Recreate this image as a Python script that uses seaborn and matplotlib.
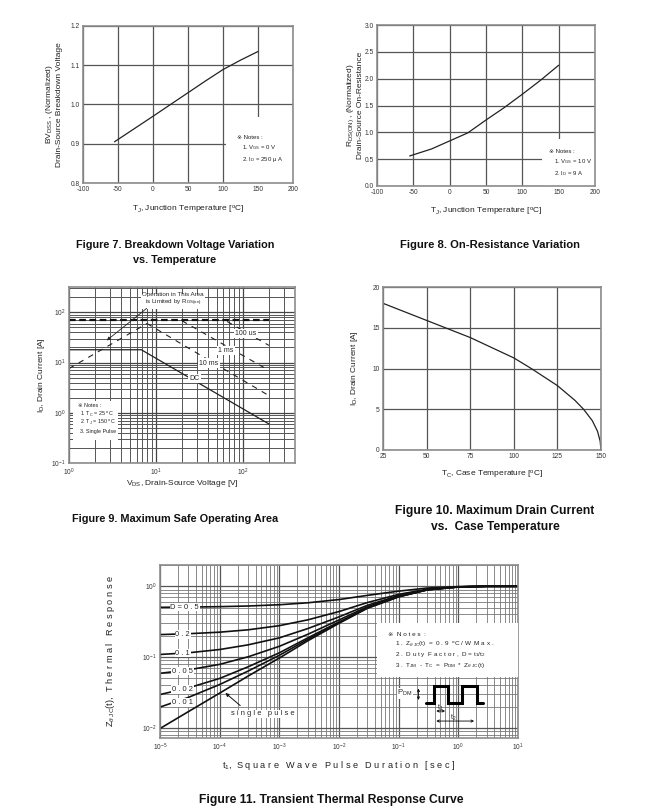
import matplotlib
matplotlib.use("Agg")
import matplotlib.pyplot as plt
import seaborn as sns
import pandas as pd
from matplotlib.ticker import MultipleLocator, LogLocator, NullFormatter, FormatStrFormatter
from matplotlib.patches import Rectangle

sns.set_theme(style="white")
plt.rcParams['font.family'] = ['Liberation Sans', 'DejaVu Sans']
plt.rcParams['mathtext.fontset'] = 'custom'
plt.rcParams['mathtext.rm'] = 'Liberation Sans'
plt.rcParams['mathtext.it'] = 'Liberation Sans:italic'
plt.rcParams['mathtext.bf'] = 'Liberation Sans:bold'
plt.rcParams['axes.unicode_minus'] = False

# ---------------- data ----------------
# Figure 7: breakdown voltage vs temperature
bv_temp = [-55, 0, 25, 50, 75, 100, 125, 150]
bv_norm = [0.905, 0.970, 1.000, 1.030, 1.060, 1.089, 1.113, 1.135]

# Figure 8: on-resistance vs temperature
rds_temp = [-55, -25, 0, 25, 50, 75, 100, 125, 150]
rds_norm = [0.56, 0.69, 0.84, 0.99, 1.23, 1.46, 1.71, 1.97, 2.25]

# Figure 9: safe operating area
soa_limit_v = [1, 7.9]
soa_limit_i = [7.6, 60]
soa_pulse_v = [1, 200]
soa_pulse_i = [70, 70]
soa_100us_v = [66, 200]
soa_100us_i = [66, 22]
soa_1ms_v = [20, 200]
soa_1ms_i = [68, 7.0]
soa_10ms_v = [7.9, 200]
soa_10ms_i = [60, 2.2]
soa_dc_v = [1, 6.8, 200]
soa_dc_i = [18, 18, 0.6]

# Figure 10: max drain current vs case temperature
tc_temp = [25, 50, 75, 100, 110, 125, 135, 140, 145, 148, 149.5, 150]
id_max = [18.0, 15.9, 13.8, 11.3, 10.0, 7.9, 6.1, 5.0, 3.6, 2.3, 1.1, 0.0]

# Figure 11: transient thermal response
t_pulse = [1e-5, 3e-5, 1e-4, 3e-4, 1e-3, 3e-3, 1e-2, 3e-2, 1e-1, 3e-1, 1, 3, 10]
z_d05 = [0.505, 0.509, 0.516, 0.527, 0.549, 0.585, 0.650, 0.745, 0.855, 0.945, 0.990, 1.0, 1.0]
z_d02 = [0.208, 0.214, 0.225, 0.243, 0.278, 0.336, 0.440, 0.590, 0.770, 0.910, 0.985, 1.0, 1.0]
z_d01 = [0.109, 0.115, 0.128, 0.149, 0.187, 0.253, 0.370, 0.540, 0.740, 0.900, 0.980, 1.0, 1.0]
z_d005 = [0.059, 0.066, 0.079, 0.101, 0.142, 0.210, 0.335, 0.515, 0.725, 0.895, 0.980, 1.0, 1.0]
z_d002 = [0.0296, 0.0367, 0.050, 0.073, 0.115, 0.187, 0.314, 0.500, 0.715, 0.892, 0.980, 1.0, 1.0]
z_d001 = [0.0197, 0.027, 0.041, 0.0635, 0.106, 0.178, 0.307, 0.495, 0.713, 0.890, 0.980, 1.0, 1.0]
z_single = [0.0098, 0.017, 0.031, 0.054, 0.097, 0.170, 0.300, 0.490, 0.710, 0.890, 0.980, 1.0, 1.0]
duty_labels = ["D = 0 . 5", "0 . 2", "0 . 1", "0 . 0 5", "0 . 0 2", "0 . 0 1"]
duty_label_y = [0.51, 0.21, 0.114, 0.0635, 0.035, 0.023]

# ---------------- figure ----------------
fig = plt.figure(figsize=(6.6, 8.1), dpi=100)


def px_axes(x0, y0, x1, y1):
    return fig.add_axes([x0 / 660, 1 - y1 / 810, (x1 - x0) / 660, (y1 - y0) / 810])


def style(ax):
    for s in ax.spines.values():
        s.set_color('#8c8c8c')
        s.set_linewidth(1.2)
    ax.tick_params(which='both', direction='in', colors='#666666', labelcolor='#333333',
                   labelsize=4.8, width=0.6, pad=2.5)
    ax.tick_params(which='major', length=2.5)
    ax.tick_params(which='minor', length=1.5)
    ax.set_axisbelow(True)


LBL = dict(fontsize=6.0, color='#222222')
NOTE = dict(fontsize=4.3, color='#222222')
DEG = r"$^{\mathrm{o}}$C"

# ---- Figure 7 ----
ax7 = px_axes(83, 26, 293, 183)
style(ax7)
sns.lineplot(x=bv_temp, y=bv_norm, ax=ax7, color='#222222', lw=0.9)
ax7.set_xlim(-100, 200)
ax7.set_ylim(0.8, 1.2)
ax7.xaxis.set_major_locator(MultipleLocator(50))
ax7.xaxis.set_minor_locator(MultipleLocator(25))
ax7.yaxis.set_major_locator(MultipleLocator(0.1))
ax7.yaxis.set_minor_locator(MultipleLocator(0.05))
ax7.yaxis.set_major_formatter(FormatStrFormatter('%.1f'))
ax7.grid(True, which='major', color='#555555', lw=0.9)
ax7.add_patch(Rectangle((0.68, 0.0), 0.32, 0.42, transform=ax7.transAxes,
                        facecolor='white', edgecolor='none', zorder=1))
ax7.text(0.735, 0.29, "※ Notes :", transform=ax7.transAxes, va='center', **NOTE)
ax7.text(0.755, 0.223, r"1. V$_{\mathrm{GS}}$ = 0 V", transform=ax7.transAxes, va='center', **NOTE)
ax7.text(0.755, 0.147, r"2. I$_{\mathrm{D}}$ = 250 μ A", transform=ax7.transAxes, va='center', **NOTE)
ax7.set_xlabel(r"T$_{\mathrm{J}}$, Junction Temperature [" + DEG + "]", **LBL)
ax7.set_ylabel("BV$_{\\mathrm{DSS}}$ , (Normalized)\nDrain-Source Breakdown Voltage", **LBL)
ax7.xaxis.set_label_coords(0.5, -0.134)
ax7.yaxis.set_label_coords(-0.095, 0.5)

# ---- Figure 8 ----
ax8 = px_axes(377, 25, 595, 186)
style(ax8)
sns.lineplot(x=rds_temp, y=rds_norm, ax=ax8, color='#222222', lw=0.9)
ax8.set_xlim(-100, 200)
ax8.set_ylim(0.0, 3.0)
ax8.xaxis.set_major_locator(MultipleLocator(50))
ax8.xaxis.set_minor_locator(MultipleLocator(25))
ax8.yaxis.set_major_locator(MultipleLocator(0.5))
ax8.yaxis.set_minor_locator(MultipleLocator(0.25))
ax8.yaxis.set_major_formatter(FormatStrFormatter('%.1f'))
ax8.grid(True, which='major', color='#555555', lw=0.9)
ax8.add_patch(Rectangle((0.755, 0.0), 0.245, 0.29, transform=ax8.transAxes,
                        facecolor='white', edgecolor='none', zorder=1))
ax8.text(0.79, 0.213, "※ Notes :", transform=ax8.transAxes, va='center', **NOTE)
ax8.text(0.81, 0.151, r"1. V$_{\mathrm{GS}}$ = 10 V", transform=ax8.transAxes, va='center', **NOTE)
ax8.text(0.81, 0.079, r"2. I$_{\mathrm{D}}$ = 9 A", transform=ax8.transAxes, va='center', **NOTE)
ax8.set_xlabel(r"T$_{\mathrm{J}}$, Junction Temperature [" + DEG + "]", **LBL)
ax8.set_ylabel("R$_{\\mathrm{DS(ON)}}$ , (Normalized)\nDrain-Source On-Resistance", **LBL)
ax8.xaxis.set_label_coords(0.5, -0.124)
ax8.yaxis.set_label_coords(-0.06, 0.5)

# ---- Figure 9 ----
ax9 = px_axes(69, 287, 295, 463)
style(ax9)
ax9.set_xscale('log')
ax9.set_yscale('log')
dash = dict(color='#222222', lw=0.8, dashes=(5, 5))
sns.lineplot(x=soa_limit_v, y=soa_limit_i, ax=ax9, **dash)
sns.lineplot(x=soa_100us_v, y=soa_100us_i, ax=ax9, **dash)
sns.lineplot(x=soa_1ms_v, y=soa_1ms_i, ax=ax9, **dash)
sns.lineplot(x=soa_10ms_v, y=soa_10ms_i, ax=ax9, **dash)
sns.lineplot(x=soa_pulse_v, y=soa_pulse_i, ax=ax9, color='#111111', lw=1.6, dashes=(3, 1.6))
sns.lineplot(x=soa_dc_v, y=soa_dc_i, ax=ax9, color='#222222', lw=0.9, sort=False)
ax9.set_xlim(1, 400)
ax9.set_ylim(0.1, 320)
ax9.xaxis.set_minor_locator(LogLocator(base=10, subs=range(2, 10)))
ax9.yaxis.set_minor_locator(LogLocator(base=10, subs=range(2, 10)))
ax9.xaxis.set_minor_formatter(NullFormatter())
ax9.yaxis.set_minor_formatter(NullFormatter())
ax9.set_xticks([1, 10, 100])
ax9.set_xticklabels(['$10^{0}$', '$10^{1}$', '$10^{2}$'])
ax9.set_yticks([0.1, 1, 10, 100])
ax9.set_yticklabels(['$10^{-1}$', '$10^{0}$', '$10^{1}$', '$10^{2}$'])
ax9.grid(True, which='major', color='#444444', lw=0.9)
ax9.grid(True, which='minor', color='#555555', lw=0.7)
bb = dict(boxstyle='square,pad=0.15', facecolor='white', edgecolor='none')
ax9.text(109, 38, "100 us", fontsize=5, ha='center', va='center', bbox=bb, zorder=4)
ax9.text(64, 17.6, "1 ms", fontsize=5, ha='center', va='center', bbox=bb, zorder=4)
ax9.text(41, 9.8, "10 ms", fontsize=5, ha='center', va='center', bbox=bb, zorder=4)
ax9.text(27.9, 4.9, "DC", fontsize=5, ha='center', va='center', bbox=bb, zorder=4)
ax9.text(0.46, 0.925, "Operation in This Area\nis Limited by R$_{\\mathrm{DS(on)}}$",
         transform=ax9.transAxes, fontsize=4.5, ha='center', va='center',
         linespacing=1.1, bbox=bb, zorder=4)
ax9.annotate("", xy=(2.57, 25.5), xytext=(8.3, 130),
             arrowprops=dict(arrowstyle='-|>', color='#222222', lw=0.6,
                             mutation_scale=5), zorder=4)
ax9.add_patch(Rectangle((0.019, 0.13), 0.2, 0.225, transform=ax9.transAxes,
                        facecolor='white', edgecolor='none', zorder=3))
N9 = dict(fontsize=3.9, color='#222222', transform=ax9.transAxes, va='center', zorder=4)
ax9.text(0.041, 0.325, "※ Notes :", **N9)
ax9.text(0.047, 0.276, r"1. T$_{\mathrm{C}}$ = 25 " + DEG, **N9)
ax9.text(0.047, 0.228, r"2. T$_{\mathrm{J}}$ = 150 " + DEG, **N9)
ax9.text(0.047, 0.180, "3. Single Pulse", **N9)
ax9.set_xlabel(r"V$_{\mathrm{DS}}$, Drain-Source Voltage [V]", **LBL)
ax9.set_ylabel(r"I$_{\mathrm{D}}$, Drain Current [A]", **LBL)
ax9.xaxis.set_label_coords(0.5, -0.085)
ax9.yaxis.set_label_coords(-0.099, 0.5)

# ---- Figure 10 ----
ax10 = px_axes(383, 287, 601, 450)
style(ax10)
sns.lineplot(x=tc_temp, y=id_max, ax=ax10, color='#222222', lw=0.9)
ax10.set_xlim(25, 150)
ax10.set_ylim(0, 20)
ax10.xaxis.set_major_locator(MultipleLocator(25))
ax10.xaxis.set_minor_locator(MultipleLocator(12.5))
ax10.yaxis.set_major_locator(MultipleLocator(5))
ax10.yaxis.set_minor_locator(MultipleLocator(2.5))
ax10.grid(True, which='major', color='#555555', lw=0.9)
ax10.set_xlabel(r"T$_{\mathrm{C}}$, Case Temperature [" + DEG + "]", **LBL)
ax10.set_ylabel(r"I$_{\mathrm{D}}$, Drain Current [A]", **LBL)
ax10.xaxis.set_label_coords(0.5, -0.117)
ax10.yaxis.set_label_coords(-0.105, 0.5)

# ---- Figure 11 ----
ax11 = px_axes(160, 565, 518, 738)
style(ax11)
ax11.set_xscale('log')
ax11.set_yscale('log')
for zs in [z_d05, z_d02, z_d01, z_d005, z_d002, z_d001, z_single]:
    sns.lineplot(x=t_pulse, y=zs, ax=ax11, color='#111111', lw=1.2)
ax11.set_xlim(1e-5, 10)
ax11.set_ylim(0.0072, 2)
ax11.set_xticks([1e-5, 1e-4, 1e-3, 1e-2, 1e-1, 1, 10])
ax11.set_xticklabels(['$10^{-5}$', '$10^{-4}$', '$10^{-3}$', '$10^{-2}$',
                      '$10^{-1}$', '$10^{0}$', '$10^{1}$'])
ax11.set_yticks([0.01, 0.1, 1])
ax11.set_yticklabels(['$10^{-2}$', '$10^{-1}$', '$10^{0}$'])
ax11.xaxis.set_minor_locator(LogLocator(base=10, subs=range(2, 10)))
ax11.yaxis.set_minor_locator(LogLocator(base=10, subs=range(2, 10)))
ax11.xaxis.set_minor_formatter(NullFormatter())
ax11.yaxis.set_minor_formatter(NullFormatter())
ax11.grid(True, which='major', color='#555555', lw=0.9)
ax11.grid(True, which='minor', color='#777777', lw=0.6)
bb2 = dict(boxstyle='square,pad=0.1', facecolor='white', edgecolor='none')
ax11.text(2.6e-5, duty_label_y[0], duty_labels[0], fontsize=5.4, ha='center', va='center', bbox=bb2, zorder=4)
for lab, yy in zip(duty_labels[1:], duty_label_y[1:]):
    ax11.text(2.4e-5, yy, lab, fontsize=5.4, ha='center', va='center', bbox=bb2, zorder=4)
ax11.text(5.3e-4, 0.0158, "s i n g l e   p u l s e", fontsize=5.4, ha='center', va='center',
          bbox=bb2, zorder=4)
ax11.annotate("", xy=(1.15e-4, 0.033), xytext=(2.4e-4, 0.0195),
              arrowprops=dict(arrowstyle='-|>', color='#111111', lw=0.7, mutation_scale=5), zorder=4)
ax11.add_patch(Rectangle((0.605, 0.354), 0.395, 0.309, transform=ax11.transAxes,
                         facecolor='white', edgecolor='none', zorder=3))
N11 = dict(fontsize=4.6, color='#222222', transform=ax11.transAxes, va='center', zorder=4)
ax11.text(0.637, 0.601, "※  N o t e s  :", **N11)
ax11.text(0.656, 0.542, "1 .  Z$_{\\theta\\ \\mathrm{JC}}$(t)  =  0 . 9  " + DEG + " / W  M a x .", **N11)
ax11.text(0.656, 0.480, "2 .  D u t y  F a c t o r ,  D = t$_{1}$/t$_{2}$", **N11)
ax11.text(0.656, 0.418, "3 .  T$_{\\mathrm{JM}}$  -  T$_{\\mathrm{C}}$  =  P$_{\\mathrm{DM}}$  *  Z$_{\\theta\\ \\mathrm{JC}}$(t)", **N11)
# pulse waveform sketch
wx = [0.743, 0.764, 0.764, 0.804, 0.804, 0.843, 0.843, 0.885, 0.885, 0.903]
wy = [0.204, 0.204, 0.302, 0.302, 0.204, 0.204, 0.302, 0.302, 0.204, 0.204]
ax11.plot(wx, wy, transform=ax11.transAxes, color='black', lw=2.2, zorder=5,
          solid_joinstyle='miter')
ax11.text(0.684, 0.258, "P$_{\\mathrm{DM}}$", transform=ax11.transAxes, fontsize=5.5,
          ha='center', va='center', zorder=5,
          bbox=dict(boxstyle='square,pad=0.05', facecolor='white', edgecolor='none'))
ax11.annotate("", xy=(0.722, 0.302), xytext=(0.722, 0.204), xycoords='axes fraction',
              arrowprops=dict(arrowstyle='<->', color='black', lw=0.6, mutation_scale=4), zorder=5)
ax11.annotate("", xy=(0.764, 0.156), xytext=(0.804, 0.156), xycoords='axes fraction',
              arrowprops=dict(arrowstyle='<->', color='black', lw=0.6, mutation_scale=4), zorder=5)
ax11.annotate("", xy=(0.764, 0.098), xytext=(0.885, 0.098), xycoords='axes fraction',
              arrowprops=dict(arrowstyle='<->', color='black', lw=0.6, mutation_scale=4), zorder=5)
ax11.text(0.784, 0.175, "t$_1$", transform=ax11.transAxes, fontsize=5, ha='center', va='center', zorder=5)
ax11.text(0.82, 0.115, "t$_2$", transform=ax11.transAxes, fontsize=5, ha='center', va='center', zorder=5)
ax11.set_xlabel(r"t$_1$,  S q u a r e   W a v e   P u l s e   D u r a t i o n   [ s e c ]",
                fontsize=6.6, color='#222222')
ax11.set_ylabel(r"Z$_{\theta\ \mathrm{JC}}$(t),  T h e r m a l   R e s p o n s e",
                fontsize=6.6, color='#222222')
ax11.xaxis.set_label_coords(0.5, -0.121)
ax11.yaxis.set_label_coords(-0.12, 0.5)

# ---- captions ----
CAP = dict(fontsize=7.8, fontweight='bold', ha='center', va='center', color='#111111')
fig.text(175 / 660, 1 - 245 / 810, "Figure 7. Breakdown Voltage Variation", **CAP)
fig.text(175 / 660, 1 - 260 / 810, "vs. Temperature", **CAP)
fig.text(490 / 660, 1 - 245 / 810, "Figure 8. On-Resistance Variation", fontsize=8.1,
         fontweight='bold', ha='center', va='center', color='#111111')
fig.text(175 / 660, 1 - 519 / 810, "Figure 9. Maximum Safe Operating Area", **CAP)
CAP2 = dict(CAP, fontsize=8.7)
fig.text(495 / 660, 1 - 511 / 810, "Figure 10. Maximum Drain Current", **CAP2)
fig.text(495 / 660, 1 - 527 / 810, "vs.  Case Temperature", **CAP2)
fig.text(331 / 660, 1 - 800 / 810, "Figure 11. Transient Thermal Response Curve", **CAP2)

fig.savefig("out.png", dpi=100, facecolor='white')
